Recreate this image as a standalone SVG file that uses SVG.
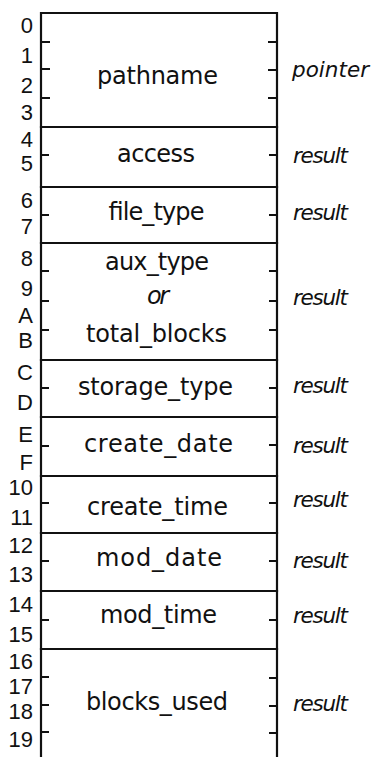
<svg xmlns="http://www.w3.org/2000/svg" width="371" height="757" viewBox="0 0 371 757">
  <style>
    .edge { stroke: #111; stroke-width: 2.2; fill: none; stroke-linecap: square; }
    .tick { stroke: #111; stroke-width: 2; fill: none; }
    .field { font-family: "DejaVu Sans", "Liberation Sans", sans-serif; font-size: 24px; fill: #111; text-anchor: middle; }
    .role { font-family: "DejaVu Sans", "Liberation Sans", sans-serif; font-size: 21.5px; font-style: italic; fill: #111; }
    .off { font-family: "Liberation Sans", "DejaVu Sans", sans-serif; font-size: 22px; fill: #111; text-anchor: end; }
  </style>
  <rect width="371" height="757" fill="#fff"/>

  <!-- parameter block outline: open at the bottom -->
  <g id="outline">
    <path class="edge" d="M41 757 V13 H277 V757"/>
  </g>

  <!-- byte offsets -->
  <g id="offsets">
    <text class="off" x="33" y="33">0</text>
    <text class="off" x="33" y="63">1</text>
    <text class="off" x="33" y="93">2</text>
    <text class="off" x="33" y="120">3</text>
    <text class="off" x="33" y="147">4</text>
    <text class="off" x="33" y="171">5</text>
    <text class="off" x="33" y="208">6</text>
    <text class="off" x="33" y="234">7</text>
    <text class="off" x="33" y="266">8</text>
    <text class="off" x="33" y="296">9</text>
    <text class="off" x="33" y="323">A</text>
    <text class="off" x="33" y="348">B</text>
    <text class="off" x="33" y="380">C</text>
    <text class="off" x="33" y="410">D</text>
    <text class="off" x="33" y="442">E</text>
    <text class="off" x="33" y="470">F</text>
    <text class="off" x="33" y="495">10</text>
    <text class="off" x="33" y="525">11</text>
    <text class="off" x="33" y="553">12</text>
    <text class="off" x="33" y="582">13</text>
    <text class="off" x="33" y="612">14</text>
    <text class="off" x="33" y="642">15</text>
    <text class="off" x="33" y="669">16</text>
    <text class="off" x="33" y="694">17</text>
    <text class="off" x="33" y="719">18</text>
    <text class="off" x="33" y="747">19</text>
  </g>

  <g id="pathname">
    <path class="tick" d="M41 42 H50 M41 69 H50 M41 98 H50 M277 42 H268 M277 70 H268 M277 98 H268"/>
    <text class="field" x="157.5" y="84" textLength="121">pathname</text>
    <text class="role" x="292" y="77" textLength="77">pointer</text>
  </g>

  <g id="access">
    <path class="edge" d="M41 127 H277"/>
    <path class="tick" d="M41 155 H49 M277 155 H269"/>
    <text class="field" x="156" y="162" textLength="78">access</text>
    <text class="role" x="293" y="163" textLength="55">result</text>
  </g>

  <g id="file_type">
    <path class="edge" d="M41 187 H277"/>
    <path class="tick" d="M41 215 H49 M277 215 H269"/>
    <text class="field" x="156" y="220" textLength="96">file_type</text>
    <text class="role" x="293" y="220" textLength="55">result</text>
  </g>

  <g id="aux_type">
    <path class="edge" d="M41 243 H277"/>
    <path class="tick" d="M41 271 H49 M41 301 H49 M41 330 H49 M277 271 H269 M277 301 H269 M277 330 H269"/>
    <text class="field" x="157" y="270" textLength="104">aux_type</text>
    <text class="field" x="158" y="304" font-style="italic" textLength="22">or</text>
    <text class="field" x="156.5" y="342" textLength="141">total_blocks</text>
    <text class="role" x="293" y="305" textLength="55">result</text>
  </g>

  <g id="storage_type">
    <path class="edge" d="M41 360 H277"/>
    <path class="tick" d="M41 388 H49 M277 388 H269"/>
    <text class="field" x="155.5" y="395" textLength="155">storage_type</text>
    <text class="role" x="293" y="393" textLength="55">result</text>
  </g>

  <g id="create_date">
    <path class="edge" d="M41 417 H277"/>
    <path class="tick" d="M41 446 H49 M277 445 H269"/>
    <text class="field" x="158.5" y="452" textLength="149">create_date</text>
    <text class="role" x="293" y="453" textLength="55">result</text>
  </g>

  <g id="create_time">
    <path class="edge" d="M41 476 H277"/>
    <path class="tick" d="M41 503 H49 M277 503 H269"/>
    <text class="field" x="157.5" y="515" textLength="141">create_time</text>
    <text class="role" x="293" y="507" textLength="55">result</text>
  </g>

  <g id="mod_date">
    <path class="edge" d="M41 533 H277"/>
    <path class="tick" d="M41 561 H49 M277 561 H269"/>
    <text class="field" x="159" y="566" textLength="126">mod_date</text>
    <text class="role" x="293" y="568" textLength="55">result</text>
  </g>

  <g id="mod_time">
    <path class="edge" d="M41 591 H277"/>
    <path class="tick" d="M41 620 H49 M277 620 H269"/>
    <text class="field" x="158.5" y="623" textLength="117">mod_time</text>
    <text class="role" x="293" y="623" textLength="55">result</text>
  </g>

  <g id="blocks_used">
    <path class="edge" d="M41 649 H277"/>
    <path class="tick" d="M41 677 H49 M41 705 H49 M41 732 H49 M277 678 H269 M277 706 H269 M277 733 H269"/>
    <text class="field" x="157" y="710" textLength="142">blocks_used</text>
    <text class="role" x="293" y="711" textLength="55">result</text>
  </g>
</svg>
